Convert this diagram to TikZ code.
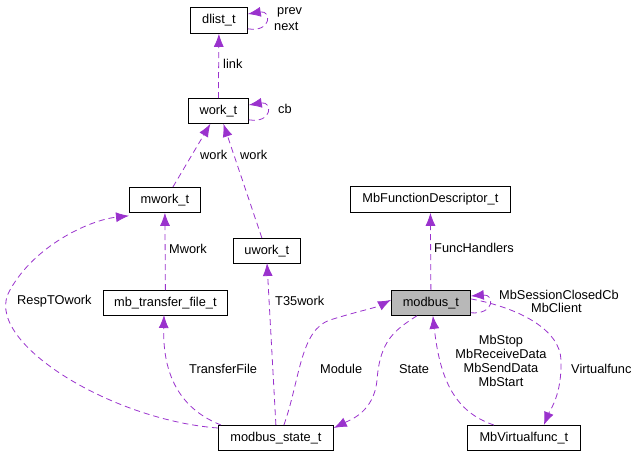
\documentclass[tikz,border=0pt]{standalone}
\usepackage{fontspec}
\setmainfont{Liberation Sans}
\usetikzlibrary{arrows.meta}
\definecolor{edgecol}{HTML}{9A32CD}
\newcommand{\clsfont}{\fontsize{12.8}{15}\selectfont}
\tikzset{
    cls/.style = {draw=black, thick, rectangle, inner sep=0pt, anchor=north west},
    main_cls/.style = {cls, fill=black!28},
    lbl/.style = {anchor=west, inner sep=0pt, font=\clsfont, align=center},
    use/.style = {draw=edgecol, thick, dash pattern=on 6pt off 4pt, -{Latex[length=13pt,width=10pt]}}
}
\newcommand{\cbox}[6]{% name, style, x1, y1, x2, y2
    \node[#2, minimum width=#5pt-#3pt, minimum height=#6pt-#4pt] (#1) at (#3,#4) {};}

\begin{document}
\begin{tikzpicture}[x=1pt, y=-1pt]
    \useasboundingbox (0,0) rectangle (637,456);

    % classes
    \cbox{dlist}{cls}{190}{7}{247}{33}   \node at (dlist.center) {\clsfont dlist\_t};
    \cbox{work}{cls}{188}{98}{248}{123}  \node at (work.center) {\clsfont work\_t};
    \cbox{mwork}{cls}{129}{187}{200}{212} \node at (mwork.center) {\clsfont mwork\_t};
    \cbox{uwork}{cls}{233}{238}{300}{263} \node at (uwork.center) {\clsfont uwork\_t};
    \cbox{xfer}{cls}{103}{290}{227}{315} \node at (xfer.center) {\clsfont mb\_transfer\_file\_t};
    \cbox{state}{cls}{218}{425}{333}{450} \node at (state.center) {\clsfont modbus\_state\_t};
    \cbox{fdesc}{cls}{350}{186}{510}{212} \node at (fdesc.center) {\clsfont MbFunctionDescriptor\_t};
    \cbox{modbus}{main_cls}{391}{290}{470}{315} \node at (modbus.center) {\clsfont modbus\_t};
    \cbox{vfunc}{cls}{467}{425}{580}{450} \node at (vfunc.center) {\clsfont MbVirtualfunc\_t};

    % relations
    \draw[use] (work.north) -- (dlist.south);
    \draw[use] (dlist.south east) ++(0,-5) .. controls +(24,4) and +(24,-4) .. ([yshift=-7pt]dlist.north east);
    \draw[use] (work.south east) ++(0,-4) .. controls +(24,4) and +(24,-4) .. ([yshift=-7pt]work.north east);
    \draw[use] (mwork.north) ++(8,0) -- ([xshift=-8pt]work.south);
    \draw[use] (uwork.north) ++(-5,0) -- ([xshift=5pt]work.south);
    \draw[use] (xfer.north) -- (mwork.south);
    \draw[use] (state.north west) ++(0,3) .. controls (110,420) and (-20,340) .. (10,290)
        .. controls (35,245) and (90,220) .. ([yshift=-3pt]mwork.south west);
    \draw[use] (state.north west) ++(3,0) .. controls (170,405) and (163,360) .. (164,315);
    \draw[use] (state.north) -- (267,263);
    \draw[use] (state.north) ++(8,0) .. controls (300,380) and (300,330) .. (330,320)
        .. controls (355,312) and (375,308) .. ([yshift=3pt]modbus.west);
    \draw[use] (modbus.south) ++(-14,0) .. controls (395,330) and (380,340) .. (377,380)
        .. controls (374,412) and (350,420) .. ([yshift=-3pt]state.north east);
    \draw[use] (modbus.north) -- (fdesc.south);
    \draw[use] (modbus.south east) ++(0,-3) .. controls +(24,2) and +(24,-2) .. ([yshift=-6pt]modbus.north east);
    \draw[use] (modbus.east) ++(0,-4) .. controls (520,308) and (560,330) .. (561,360)
        .. controls (562,395) and (550,410) .. ([xshift=20pt]vfunc.north);
    \draw[use] (vfunc.north) ++(-30,0) .. controls (455,412) and (440,380) .. ([xshift=2pt]modbus.south);

    % labels
    \node[lbl] (l_link) at (223,64) {link};
    \node[lbl] (l_prev) at (277,12) {prev};
    \node[lbl] (l_next) at (274,26) {next};
    \node[lbl] (l_cb) at (278,109) {cb};
    \node[lbl] (l_work1) at (200,155) {work};
    \node[lbl] (l_work2) at (240,155) {work};
    \node[lbl] (l_mwork) at (169,249) {Mwork};
    \node[lbl] (l_resp) at (17,301) {RespTOwork};
    \node[lbl] (l_xfer) at (189,369) {TransferFile};
    \node[lbl] (l_t35) at (275,301) {T35work};
    \node[lbl] (l_module) at (320,369) {Module};
    \node[lbl] (l_state) at (399,369) {State};
    \node[lbl] (l_func) at (434,248) {FuncHandlers};
    \node[lbl] (l_sess) at (499,295) {MbSessionClosedCb};
    \node[lbl] (l_client) at (531,308) {MbClient};
    \node[lbl] (l_virt) at (571,369) {Virtualfunc};
    \node[lbl, anchor=center] (l_ops) at (501,361) {MbStop\\[-1pt]MbReceiveData\\[-1pt]MbSendData\\[-1pt]MbStart};
\end{tikzpicture}
\end{document}
